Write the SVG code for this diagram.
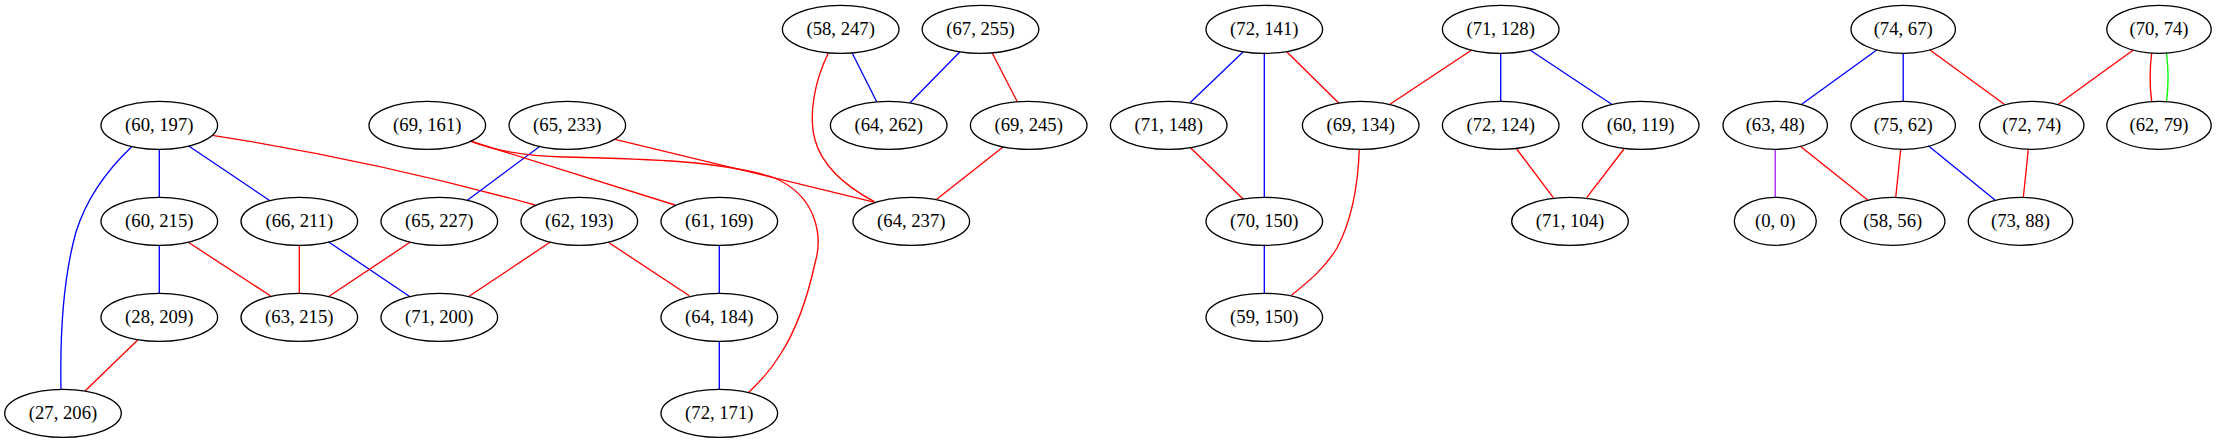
<svg xmlns="http://www.w3.org/2000/svg" width="2217" height="443" viewBox="0 0 2217 443">
<style>
.n ellipse{fill:none;stroke:#000;stroke-width:1.33}
.n text{font-family:"Liberation Serif","Times New Roman",serif;font-size:18.67px;text-anchor:middle;fill:#000}
.e path{fill:none;stroke-width:1.33}
.b{stroke:#0000ff}.r{stroke:#ff0000}.g{stroke:#00ff00}.p{stroke:#a020f0}
</style>
<rect width="2217" height="443" fill="#fff"/>
<g id="edges" class="e">
<path class="b" d="M131.7,146.7 C105,172 86,200 76,232 C62,282 60,340 61,389.5"/>
<path class="b" d="M159.3,149.3 L159.3,197.3"/>
<path class="b" d="M188.7,146 L270,200.7"/>
<path class="r" d="M212.3,135.3 C320,152 430,176 535,205"/>
<path class="b" d="M159.3,245.3 L159.3,293.3"/>
<path class="r" d="M188.3,242.3 L270.7,296"/>
<path class="r" d="M299.3,245.3 L299.3,293.3"/>
<path class="b" d="M328.3,241.7 L410,296.7"/>
<path class="r" d="M410,242.3 L328.3,296.7"/>
<path class="r" d="M137.7,340 L85,391"/>
<path class="b" d="M539.3,146.7 L466.7,200.7"/>
<path class="r" d="M550,242.3 L468.3,296.7"/>
<path class="r" d="M470,141 L675,205"/>
<path class="r" d="M470,141 C495,151 525,156 565,157 C650,159 720,161 772,177 C820,196 822,240 815,263 C807,300 795,332 780,355 C770,371 760,382 748.3,392.7"/>
<path class="r" d="M615,139.3 L875,202.3"/>
<path class="b" d="M852.3,53.3 L876.7,101.7"/>
<path class="b" d="M960,51.7 L910,102.7"/>
<path class="r" d="M828.3,53.3 C815,80 808,115 815,140 C822,165 845,186 874.3,201.7"/>
<path class="r" d="M1002.7,147.3 L936.7,199.3"/>
<path class="r" d="M992.3,53.3 L1017.3,101.7"/>
<path class="r" d="M608.3,242.3 L689.3,295.7"/>
<path class="b" d="M719.3,245.3 L719.3,293.3"/>
<path class="b" d="M719.3,341.3 L719.3,389.3"/>
<path class="b" d="M1243.3,51.7 L1190,102.7"/>
<path class="b" d="M1264.3,53.3 L1264.3,197.3"/>
<path class="r" d="M1286.7,51.7 L1339,103.3"/>
<path class="r" d="M1471.7,50 L1390,104.3"/>
<path class="r" d="M1190,147.3 L1243.3,199.3"/>
<path class="r" d="M1359.3,149.3 C1358,185 1352,220 1337,248 C1325,268 1308,282 1291.7,295"/>
<path class="b" d="M1264.3,245.3 L1264.3,293.3"/>
<path class="b" d="M1500.7,53.3 L1500.7,101.3"/>
<path class="b" d="M1530,50 L1611.7,104.3"/>
<path class="r" d="M1516.7,149 L1553.3,197.7"/>
<path class="r" d="M1624,149 L1586.7,197.7"/>
<path class="b" d="M1876.7,50 L1801.7,104.3"/>
<path class="b" d="M1903.2,53.3 L1903.2,101.3"/>
<path class="p" d="M1775.2,149.3 L1775.2,197.3"/>
<path class="r" d="M1800,146 L1867.7,200"/>
<path class="r" d="M1900.7,149.3 L1895.7,197.7"/>
<path class="r" d="M1930,50 L2004.3,104.3"/>
<path class="r" d="M2133.3,50 L2058.3,104.3"/>
<path class="r" d="M2151.7,53 C2149.5,70 2149.5,85 2151.7,101.5"/>
<path class="g" d="M2166.5,53 C2168.7,70 2168.7,85 2166.5,101.5"/>
<path class="b" d="M1928.3,145.7 L1995,200"/>
<path class="r" d="M2028.3,149.3 L2023.3,197.7"/>
</g>
<g id="n1" class="n"><ellipse cx="159.3" cy="125.3" rx="58.3" ry="24"/><text x="159.3" y="130.9">(60, 197)</text></g>
<g id="n2" class="n"><ellipse cx="159.3" cy="221.3" rx="58.3" ry="24"/><text x="159.3" y="226.9">(60, 215)</text></g>
<g id="n3" class="n"><ellipse cx="299.3" cy="221.3" rx="58.3" ry="24"/><text x="299.3" y="226.9">(66, 211)</text></g>
<g id="n4" class="n"><ellipse cx="439.3" cy="221.3" rx="58.3" ry="24"/><text x="439.3" y="226.9">(65, 227)</text></g>
<g id="n5" class="n"><ellipse cx="159.3" cy="317.3" rx="58.3" ry="24"/><text x="159.3" y="322.9">(28, 209)</text></g>
<g id="n6" class="n"><ellipse cx="299.3" cy="317.3" rx="58.3" ry="24"/><text x="299.3" y="322.9">(63, 215)</text></g>
<g id="n7" class="n"><ellipse cx="439.3" cy="317.3" rx="58.3" ry="24"/><text x="439.3" y="322.9">(71, 200)</text></g>
<g id="n8" class="n"><ellipse cx="63" cy="413.3" rx="58.3" ry="24"/><text x="63" y="418.9">(27, 206)</text></g>
<g id="n9" class="n"><ellipse cx="427.3" cy="125.3" rx="58.3" ry="24"/><text x="427.3" y="130.9">(69, 161)</text></g>
<g id="n10" class="n"><ellipse cx="567.3" cy="125.3" rx="58.3" ry="24"/><text x="567.3" y="130.9">(65, 233)</text></g>
<g id="n11" class="n"><ellipse cx="840.7" cy="29.3" rx="58.3" ry="24"/><text x="840.7" y="34.9">(58, 247)</text></g>
<g id="n12" class="n"><ellipse cx="980.5" cy="29.3" rx="58.3" ry="24"/><text x="980.5" y="34.9">(67, 255)</text></g>
<g id="n13" class="n"><ellipse cx="888.7" cy="125.3" rx="58.3" ry="24"/><text x="888.7" y="130.9">(64, 262)</text></g>
<g id="n14" class="n"><ellipse cx="1028.7" cy="125.3" rx="58.3" ry="24"/><text x="1028.7" y="130.9">(69, 245)</text></g>
<g id="n15" class="n"><ellipse cx="579.3" cy="221.3" rx="58.3" ry="24"/><text x="579.3" y="226.9">(62, 193)</text></g>
<g id="n16" class="n"><ellipse cx="719.3" cy="221.3" rx="58.3" ry="24"/><text x="719.3" y="226.9">(61, 169)</text></g>
<g id="n17" class="n"><ellipse cx="911.3" cy="221.3" rx="58.3" ry="24"/><text x="911.3" y="226.9">(64, 237)</text></g>
<g id="n18" class="n"><ellipse cx="719.3" cy="317.3" rx="58.3" ry="24"/><text x="719.3" y="322.9">(64, 184)</text></g>
<g id="n19" class="n"><ellipse cx="719.3" cy="413.3" rx="58.3" ry="24"/><text x="719.3" y="418.9">(72, 171)</text></g>
<g id="n20" class="n"><ellipse cx="1264.3" cy="29.3" rx="58.3" ry="24"/><text x="1264.3" y="34.9">(72, 141)</text></g>
<g id="n21" class="n"><ellipse cx="1500.7" cy="29.3" rx="58.3" ry="24"/><text x="1500.7" y="34.9">(71, 128)</text></g>
<g id="n22" class="n"><ellipse cx="1168.7" cy="125.3" rx="58.3" ry="24"/><text x="1168.7" y="130.9">(71, 148)</text></g>
<g id="n23" class="n"><ellipse cx="1360.7" cy="125.3" rx="58.3" ry="24"/><text x="1360.7" y="130.9">(69, 134)</text></g>
<g id="n24" class="n"><ellipse cx="1500.7" cy="125.3" rx="58.3" ry="24"/><text x="1500.7" y="130.9">(72, 124)</text></g>
<g id="n25" class="n"><ellipse cx="1640.7" cy="125.3" rx="58.3" ry="24"/><text x="1640.7" y="130.9">(60, 119)</text></g>
<g id="n26" class="n"><ellipse cx="1264.3" cy="221.3" rx="58.3" ry="24"/><text x="1264.3" y="226.9">(70, 150)</text></g>
<g id="n27" class="n"><ellipse cx="1570" cy="221.3" rx="58.3" ry="24"/><text x="1570" y="226.9">(71, 104)</text></g>
<g id="n28" class="n"><ellipse cx="1264.3" cy="317.3" rx="58.3" ry="24"/><text x="1264.3" y="322.9">(59, 150)</text></g>
<g id="n29" class="n"><ellipse cx="1903.2" cy="29.3" rx="52.2" ry="24"/><text x="1903.2" y="34.9">(74, 67)</text></g>
<g id="n30" class="n"><ellipse cx="2159" cy="29.3" rx="52.2" ry="24"/><text x="2159" y="34.9">(70, 74)</text></g>
<g id="n31" class="n"><ellipse cx="1775.2" cy="125.3" rx="52.2" ry="24"/><text x="1775.2" y="130.9">(63, 48)</text></g>
<g id="n32" class="n"><ellipse cx="1903.2" cy="125.3" rx="52.2" ry="24"/><text x="1903.2" y="130.9">(75, 62)</text></g>
<g id="n33" class="n"><ellipse cx="2031.7" cy="125.3" rx="52.2" ry="24"/><text x="2031.7" y="130.9">(72, 74)</text></g>
<g id="n34" class="n"><ellipse cx="2159" cy="125.3" rx="52.2" ry="24"/><text x="2159" y="130.9">(62, 79)</text></g>
<g id="n35" class="n"><ellipse cx="1775.3" cy="221.3" rx="41" ry="24"/><text x="1775.3" y="226.9">(0, 0)</text></g>
<g id="n36" class="n"><ellipse cx="1892.7" cy="221.3" rx="52.2" ry="24"/><text x="1892.7" y="226.9">(58, 56)</text></g>
<g id="n37" class="n"><ellipse cx="2020.5" cy="221.3" rx="52.2" ry="24"/><text x="2020.5" y="226.9">(73, 88)</text></g>
</svg>
